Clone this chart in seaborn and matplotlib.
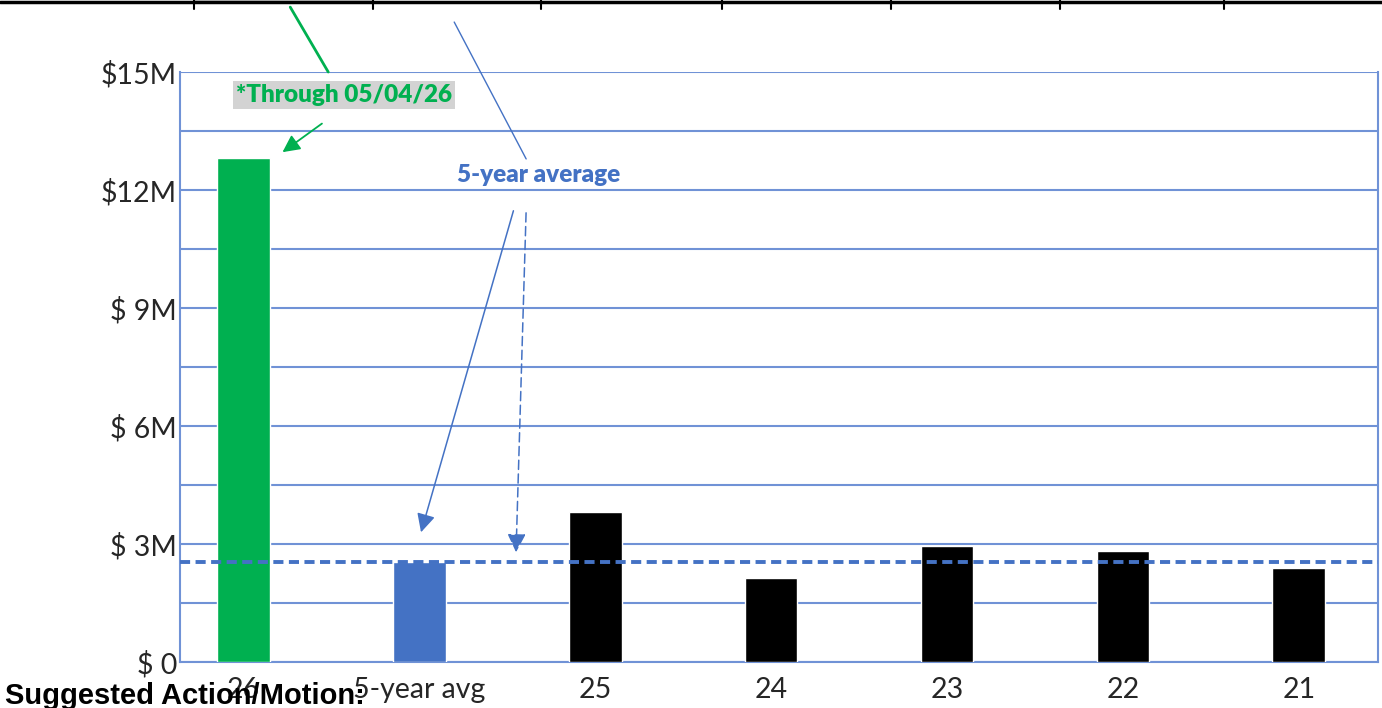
import pandas as pd
import numpy as np
import matplotlib
matplotlib.use("Agg")
import matplotlib.pyplot as plt
import seaborn as sns

# values (millions of dollars)
years = ["26", "5-year avg", "25", "24", "23", "22", "21"]
amounts = [12.81, 2.54, 3.81, 2.14, 2.95, 2.82, 2.39]
bar_colors = ["#00B050", "#4472C4", "#000000", "#000000", "#000000", "#000000", "#000000"]
avg_line = 2.54
tick_values = [0, 3, 6, 9, 12, 15]
tick_labels = ["$ 0", "$ 3M", "$ 6M", "$ 9M", "$12M", "$15M"]
grid_values = [1.5, 4.5, 7.5, 10.5, 13.5]

BLUE = "#4472C4"
GRID = "#7092D6"
GREEN = "#00B050"

df = pd.DataFrame({"year": years, "amount": amounts})

sns.set_theme(style="white")
plt.rcParams["font.family"] = ["Lato", "DejaVu Sans"]

fig = plt.figure(figsize=(13.82, 7.08), dpi=100)
ax = fig.add_axes([0.1302, 0.065, 0.8669, 0.8333])

sns.barplot(data=df, x="year", y="amount", hue="year", palette=bar_colors,
            width=0.3, legend=False, saturation=1, ax=ax, zorder=3)

ax.set_xlim(-0.36, 6.45)
ax.set_ylim(0, 15)
ax.set_yticks(tick_values)
ax.set_yticklabels(tick_labels)
ax.set_yticks(grid_values, minor=True)
ax.grid(which="both", axis="y", color=GRID, linewidth=1.5, zorder=0)
ax.set_axisbelow(True)
ax.tick_params(axis="y", which="both", length=0, labelsize=20.5, pad=2)
ax.tick_params(axis="x", length=0, labelsize=20.5, pad=11)
ax.set_xlabel("")
ax.set_ylabel("")
for s in ["left", "right", "bottom", "top"]:
    ax.spines[s].set_color(GRID)
    ax.spines[s].set_linewidth(1.5)
ax.spines["top"].set_visible(False)

# 5-year average line
ax.axhline(avg_line, color=BLUE, linestyle=(0, (2.6, 1.4)), linewidth=2.8, zorder=4)

# green note
ax.text(0.574, 14.42, "*Through 05/04/26", color=GREEN, fontsize=17.5, fontweight="heavy",
        ha="center", va="center", zorder=5,
        bbox=dict(boxstyle="square,pad=0.12", facecolor="#D3D3D3", edgecolor="none"))
ax.plot([0.267, 0.483], [16.65, 15.0], color=GREEN, linewidth=2, clip_on=False, zorder=5)
ax.annotate("", xy=(0.21, 12.92), xytext=(0.46, 13.73),
            arrowprops=dict(arrowstyle="-|>", color=GREEN, lw=1.3, mutation_scale=26))

# blue note
ax.text(1.68, 12.38, "5-year average", color=BLUE, fontsize=17.5, fontweight="heavy",
        ha="center", va="center", zorder=5)
ax.plot([1.199, 1.608], [16.27, 12.79], color=BLUE, linewidth=1, clip_on=False, zorder=5)
ax.annotate("", xy=(1.006, 3.23), xytext=(1.54, 11.54),
            arrowprops=dict(arrowstyle="-|>", color=BLUE, lw=1.1, mutation_scale=28))
ax.annotate("", xy=(1.55, 2.72), xytext=(1.608, 11.49),
            arrowprops=dict(arrowstyle="-|>", color=BLUE, lw=1.1, linestyle=(0, (6, 3)),
                            mutation_scale=28))

# table strip cut off at the top of the slide
fig.add_artist(plt.Rectangle((195 / 1382, 1 - 3 / 708), 177 / 1382, 3 / 708,
                             transform=fig.transFigure, facecolor="#D3D3D3", edgecolor="none"))
fig.add_artist(plt.Line2D([0, 1], [1 - 1.5 / 708, 1 - 1.5 / 708], transform=fig.transFigure,
                          color="black", linewidth=2.5))
for xp in [194, 373, 541, 722, 891, 1060, 1224]:
    fig.add_artist(plt.Line2D([xp / 1382, xp / 1382], [1, 1 - 9 / 708], transform=fig.transFigure,
                              color="black", linewidth=1.5))

fig.text(5 / 1382, 4 / 708, "Suggested Action/Motion:", fontsize=21, fontweight="bold",
         family=["Liberation Sans", "DejaVu Sans"], ha="left", va="baseline", color="black")

fig.savefig("out.png", dpi=100)
